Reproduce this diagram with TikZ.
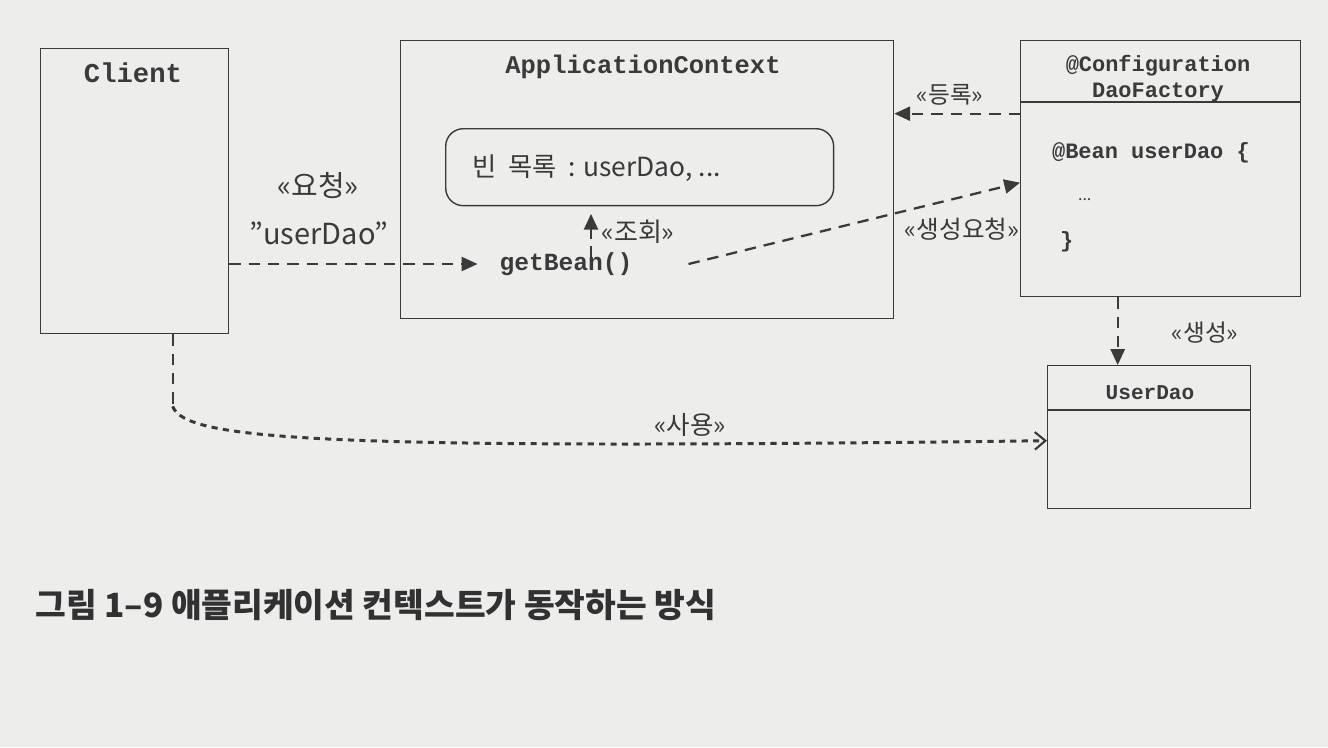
\documentclass[tikz,border=0pt]{standalone}
\usepackage{fontspec}
\setmainfont{Noto Sans CJK KR}
\newfontfamily\codefont{Liberation Mono}
\usetikzlibrary{arrows.meta,calc}
\definecolor{ink}{HTML}{3A3A3A}
\definecolor{paper}{HTML}{EDEDEB}
\begin{document}
\begin{tikzpicture}[x=0.02cm,y=-0.02cm,
  box/.style={draw=ink,line width=0.8pt,inner sep=0pt,anchor=north west},
  code/.style={text=ink,inner sep=1pt,font=\codefont\bfseries\fontsize{14pt}{16pt}\selectfont},
  codesm/.style={text=ink,inner sep=1pt,font=\codefont\bfseries\fontsize{12.5pt}{15pt}\selectfont},
  lbl/.style={text=ink,inner sep=1pt,font=\fontsize{13.5pt}{16pt}\selectfont},
  dep/.style={draw=ink,line width=1.3pt,dash pattern=on 6.5pt off 4.5pt,-{Triangle[length=9pt,width=8pt]}},
  use/.style={draw=ink,line width=1.7pt,dash pattern=on 3.5pt off 3pt,-{Straight Barb[length=6pt,width=10pt,line width=1.2pt]}}]
\fill[paper] (0,0) rectangle (1328,747);
\useasboundingbox (0,0) rectangle (1328,747);

% Client
\node[box,minimum width=3.76cm,minimum height=5.7cm] (client) at (40,48) {};
\node[code,font=\codefont\bfseries\fontsize{15.5pt}{18pt}\selectfont] (clientT) at (133,73) {Client};

% ApplicationContext
\node[box,minimum width=9.86cm,minimum height=5.56cm] (ctx) at (400,40) {};
\node[code,font=\codefont\bfseries\fontsize{14.5pt}{17pt}\selectfont] (ctxT) at (643,67) {ApplicationContext};
\node[box,rounded corners=10pt,minimum width=7.76cm,minimum height=1.54cm] (beans) at (445,128) {};
\node[lbl,anchor=west,font=\fontsize{15pt}{18pt}\selectfont] (beansT) at (470,168) {빈\ \ 목록\ \ : userDao, ...};
\node[code] (getbean) at (566,264) {getBean()};

% DaoFactory
\node[box,minimum width=5.6cm,minimum height=5.12cm] (factory) at (1020,40) {};
\draw[ink,line width=0.8pt] ($(factory.north west)+(0,-1.24cm)$) coordinate (fdl) -- (fdl -| factory.east);
\node[codesm] (cfgT) at (1158,66) {@Configuration};
\node[codesm] (dfT) at (1158,92) {DaoFactory};
\node[codesm,anchor=west] (beanT) at (1050,153) {@Bean userDao \{};
\node[lbl,anchor=west,font=\fontsize{9pt}{11pt}\selectfont] (dotsT) at (1076,200) {...};
\node[codesm,anchor=west] (braceT) at (1058,242) {\}};

% UserDao
\node[box,minimum width=4.06cm,minimum height=2.86cm] (userdao) at (1047,365) {};
\draw[ink,line width=0.8pt] ($(userdao.north west)+(0,-0.9cm)$) coordinate (udl) -- (udl -| userdao.east);
\node[code,font=\codefont\bfseries\fontsize{12pt}{14pt}\selectfont] (udT) at (1150,393) {UserDao};

% connectors
\draw[dep] (client.east |- getbean.west) -- ([xshift=-0.4cm]getbean.west);
\node[lbl,font=\fontsize{16.5pt}{19pt}\selectfont] (reqL) at (318,186) {«요청»};
\node[lbl,font=\fontsize{16.5pt}{19pt}\selectfont] (reqV) at (319,233) {\symbol{34}userDao\symbol{34}};

\draw[dep] ([xshift=0.5cm,yshift=-0.15cm]getbean.north) -- ([xshift=0.5cm,yshift=-0.15cm]getbean.north |- beans.south);
\node[lbl,font=\fontsize{14.8pt}{17pt}\selectfont] (lookL) at (638,232) {«조회»};

\draw[dep] ([xshift=1.08cm]getbean.east) -- ([yshift=-0.28cm]factory.west);
\node[lbl,font=\fontsize{14pt}{17pt}\selectfont] (creqL) at (962,229) {«생성요청»};

\draw[dep] ([yshift=1.1cm]factory.west) coordinate (regS) -- (regS -| ctx.east);
\node[lbl] (regL) at (950,95) {«등록»};

\draw[dep] ([xshift=-0.86cm]factory.south) coordinate (crS) -- (crS |- userdao.north);
\node[lbl] (crL) at (1205,333) {«생성»};

\draw[draw=ink,line width=1.3pt,dash pattern=on 6.5pt off 4.5pt] ([xshift=0.76cm]client.south) coordinate (uS) -- ++(0,72) coordinate (uM);
\draw[use] (uM) .. controls (185,440) and (320,450) .. ([yshift=-0.07cm]userdao.west);
\node[lbl,font=\fontsize{14.5pt}{17pt}\selectfont] (useL) at (690,425) {«사용»};

% caption
\node[text=ink!85!black,anchor=west,inner sep=0pt,font=\bfseries\fontsize{19pt}{22pt}\selectfont] (cap) at (35,605) {그림 1–9 애플리케이션 컨텍스트가 동작하는 방식};
\end{tikzpicture}
\end{document}
